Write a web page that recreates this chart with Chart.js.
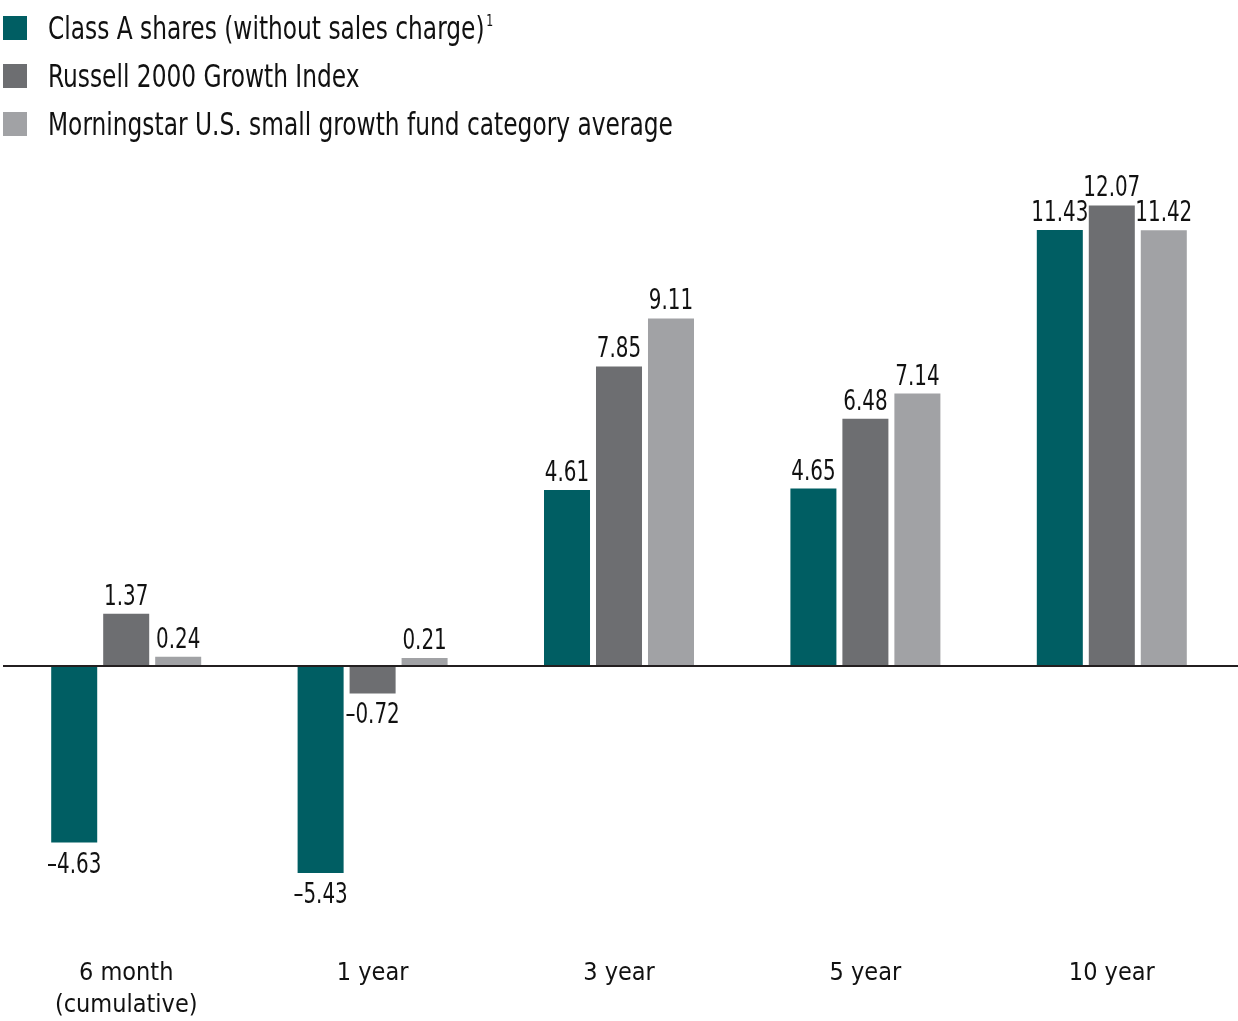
<!DOCTYPE html>
<html>
<head>
<meta charset="utf-8">
<script src="https://cdn.jsdelivr.net/npm/chart.js@4.4.1/dist/chart.umd.min.js"></script>
<style>
  html, body { margin: 0; padding: 0; background: #fff; }
  #wrap { position: relative; width: 1238px; height: 1021px; }
  #c { position: absolute; left: 0; top: 0; }
  #legend { position: absolute; left: 0; top: 0; font-family: "Liberation Sans Narrow", "DejaVu Sans Condensed", sans-serif; font-size: 32px; color: #111; }
  .li { position: absolute; left: 0; white-space: nowrap; height: 40px; line-height: 40px; }
  .sw { position: absolute; left: 3px; top: 8px; width: 24px; height: 24px; }
  .tx { position: absolute; left: 48px; top: 0; transform: scaleX(0.81); transform-origin: 0 50%; }
  sup { font-size: 15px; vertical-align: 13px; line-height: 0; margin-left: 2px; }
</style>
</head>
<body>
<div id="wrap">
  <canvas id="c" width="1238" height="1021"></canvas>
  <div id="legend"></div>
</div>
<script>
const categories = [["6 month", "(cumulative)"], "1 year", "3 year", "5 year", "10 year"];
const seriesNames = ["Class A shares (without sales charge)", "Russell 2000 Growth Index", "Morningstar U.S. small growth fund category average"];
const seriesSup = ["1", "", ""];
const classA = [-4.63, -5.43, 4.61, 4.65, 11.43];
const russell = [1.37, -0.72, 7.85, 6.48, 12.07];
const morningstar = [0.24, 0.21, 9.11, 7.14, 11.42];
const colors = ["#005E63", "#6D6E71", "#A1A2A5"];
const yMin = -7, yMax = 13;

const FONT = '"Liberation Sans Narrow", "DejaVu Sans Condensed", sans-serif';

// HTML legend
const leg = document.getElementById('legend');
seriesNames.forEach((n, i) => {
  const d = document.createElement('div');
  d.className = 'li';
  d.style.top = (8 + i * 48) + 'px';
  const sw = document.createElement('div');
  sw.className = 'sw';
  sw.style.background = colors[i];
  const t = document.createElement('span');
  t.className = 'tx';
  t.textContent = n;
  if (seriesSup[i]) { const s = document.createElement('sup'); s.textContent = seriesSup[i]; t.appendChild(s); }
  d.appendChild(sw); d.appendChild(t);
  leg.appendChild(d);
});

const fmt = v => (v < 0 ? '\u2013' + Math.abs(v).toFixed(2) : v.toFixed(2));

const zeroLine = {
  id: 'zeroLine',
  afterDatasetsDraw(chart) {
    const y = chart.scales.y.getPixelForValue(0);
    const ctx = chart.ctx;
    ctx.save();
    ctx.strokeStyle = '#231F20';
    ctx.lineWidth = 2;
    ctx.beginPath();
    ctx.moveTo(3, y);
    ctx.lineTo(chart.width, y);
    ctx.stroke();
    ctx.restore();
  }
};

const valueLabels = {
  id: 'valueLabels',
  afterDatasetsDraw(chart) {
    const ctx = chart.ctx;
    chart.data.datasets.forEach((ds, di) => {
      chart.getDatasetMeta(di).data.forEach((el, i) => {
        const v = ds.data[i];
        const y = v >= 0 ? el.y - 9 : el.y + 30;
        ctx.save();
        ctx.font = '28px ' + FONT;
        ctx.fillStyle = '#111';
        ctx.textAlign = 'center';
        ctx.textBaseline = 'alphabetic';
        ctx.translate(el.x, y);
        ctx.scale(0.79, 1);
        ctx.fillText(fmt(v), 0, 0);
        ctx.restore();
      });
    });
  }
};

new Chart(document.getElementById('c'), {
  type: 'bar',
  data: {
    labels: categories,
    datasets: [
      { label: seriesNames[0], data: classA, backgroundColor: colors[0] },
      { label: seriesNames[1], data: russell, backgroundColor: colors[1] },
      { label: seriesNames[2], data: morningstar, backgroundColor: colors[2] }
    ]
  },
  options: {
    responsive: false,
    animation: false,
    devicePixelRatio: 1,
    layout: { padding: { top: 170, left: 3, right: 3, bottom: 0 } },
    categoryPercentage: 0.633,
    barPercentage: 0.885,
    plugins: { legend: { display: false }, tooltip: { enabled: false } },
    scales: {
      x: {
        grid: { display: false, drawTicks: false },
        border: { display: false },
        ticks: { color: '#111', font: { family: FONT, size: 25, lineHeight: 1.3 }, padding: 24, maxRotation: 0, autoSkip: false },
        afterFit: s => { s.height = 88; }
      },
      y: {
        display: false,
        min: yMin,
        max: yMax
      }
    }
  },
  plugins: [zeroLine, valueLabels]
});
</script>
</body>
</html>
